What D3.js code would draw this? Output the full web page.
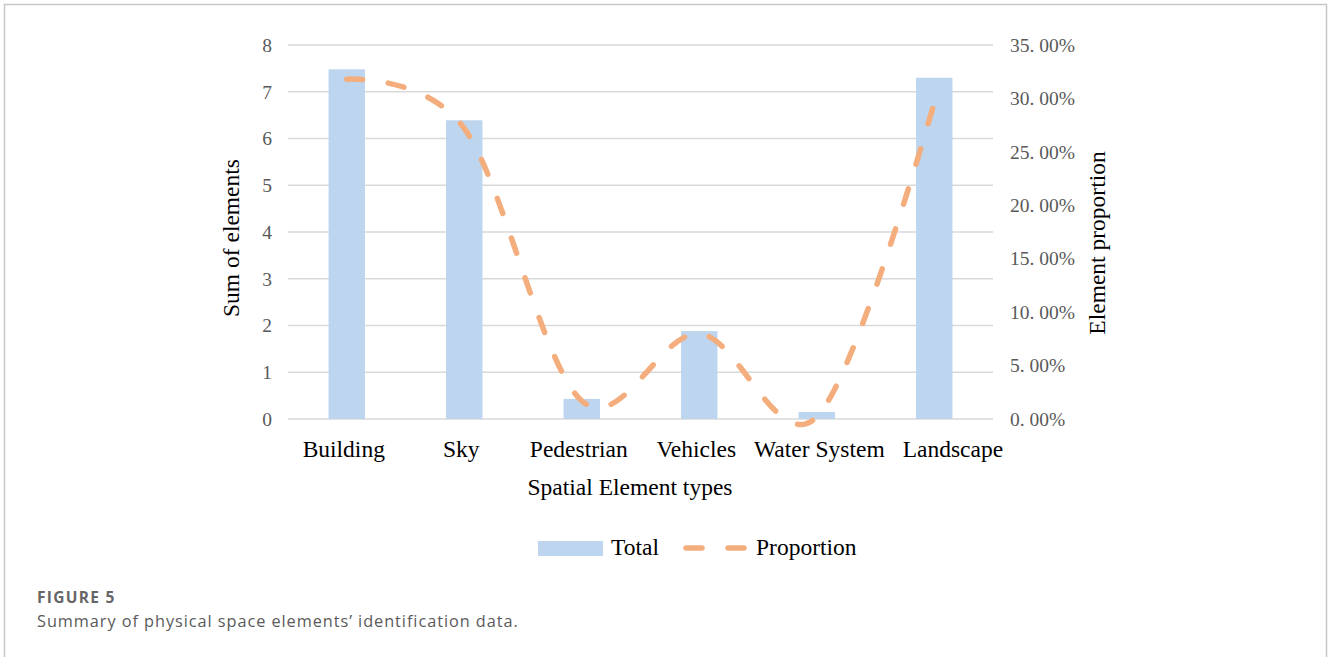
<!DOCTYPE html>
<html>
<head>
<meta charset="utf-8">
<script src="https://cdn.jsdelivr.net/npm/d3@7"></script>
<style>
  html, body { margin: 0; padding: 0; background: #fff; }
  svg { display: block; }
</style>
</head>
<body>
<svg id="chart" width="1328" height="657"></svg>
<script>
// Element types, counts per type and their share of all elements
const categories = ["Building", "Sky", "Pedestrian", "Vehicles", "Water System", "Landscape"];
const totals = [7.48, 6.39, 0.43, 1.88, 0.15, 7.3];
const proportions = [0.318, 0.272, 0.017, 0.080, 0.002, 0.296];
const leftTicks = [0, 1, 2, 3, 4, 5, 6, 7, 8];
const rightTicks = [0, 0.05, 0.10, 0.15, 0.20, 0.25, 0.30, 0.35];

const svg = d3.select("#chart");

// outer frame
svg.append("path")
  .attr("d", "M4.5,670 V4.5 H1326.5 V670")
  .attr("fill", "none").attr("stroke", "#c8c8c8").attr("stroke-width", 1.5);

const plot = { left: 288, right: 993, top: 45, bottom: 419 };

const x = d3.scaleBand().domain(categories).range([plot.left, plot.right]).paddingInner(0.69).paddingOuter(0.345);
const yL = d3.scaleLinear().domain([0, 8]).range([plot.bottom, plot.top]);
const yR = d3.scaleLinear().domain([0, 0.35]).range([plot.bottom, plot.top]);

// gridlines
svg.append("g").selectAll("line").data(leftTicks).join("line")
  .attr("x1", plot.left).attr("x2", plot.right)
  .attr("y1", d => yL(d)).attr("y2", d => yL(d))
  .attr("stroke", "#d9d9d9").attr("stroke-width", 1.5);

const serif = "'Liberation Serif', 'DejaVu Serif', serif";
const labelSize = 23.5;

// left axis
const axL = svg.append("g").attr("transform", `translate(${plot.left},0)`)
  .call(d3.axisLeft(yL).tickValues(leftTicks).tickSize(0).tickPadding(16).tickFormat(d3.format("d")));
axL.select(".domain").remove();
axL.selectAll("text").attr("font-family", serif).attr("font-size", 19.5).attr("fill", "#595959");

// right axis
const fmtPct = d => d3.format(".2f")(d * 100).replace(".", ". ") + "%";
const axR = svg.append("g").attr("transform", `translate(${plot.right},0)`)
  .call(d3.axisRight(yR).tickValues(rightTicks).tickSize(0).tickPadding(17).tickFormat(fmtPct));
axR.select(".domain").remove();
axR.selectAll("text").attr("font-family", serif).attr("font-size", 19.5).attr("fill", "#595959");

// bars
svg.append("g").selectAll("rect").data(categories).join("rect")
  .attr("x", d => x(d))
  .attr("width", x.bandwidth())
  .attr("y", (d, i) => yL(totals[i]))
  .attr("height", (d, i) => yL(0) - yL(totals[i]))
  .attr("fill", "#bdd5ee");

// smoothed dashed proportion line
const line = d3.line()
  .x((d, i) => x(categories[i]) + x.bandwidth() / 2)
  .y(d => yR(d))
  .curve(d3.curveCatmullRom.alpha(0));
svg.append("path")
  .datum(proportions)
  .attr("d", line)
  .attr("fill", "none")
  .attr("stroke", "#f4ad7d")
  .attr("stroke-width", 5.5)
  .attr("stroke-linecap", "round")
  .attr("stroke-dasharray", "16 26");

// category axis
const axB = svg.append("g").attr("transform", `translate(0,${plot.bottom})`)
  .call(d3.axisBottom(x).tickSize(0).tickPadding(21));
axB.select(".domain").remove();
axB.selectAll("text").attr("font-family", serif).attr("font-size", labelSize).attr("fill", "#000")
  .attr("dx", -3);

// push a label right when it would run into its left neighbour
let prevRight = -Infinity;
axB.selectAll(".tick").each(function () {
  const t = d3.select(this).select("text");
  const b = this.getBBox();
  const tx = +d3.select(this).attr("transform").match(/translate\(([-\d.]+)/)[1];
  const left = tx + b.x;
  const minGap = 18;
  if (left < prevRight + minGap) {
    const shift = prevRight + minGap - left;
    t.attr("dx", -3 + shift);
    prevRight = tx + b.x + b.width + shift;
  } else {
    prevRight = tx + b.x + b.width;
  }
});

// axis titles
svg.append("text").attr("x", 630).attr("y", 495).attr("text-anchor", "middle")
  .attr("font-family", serif).attr("font-size", labelSize).text("Spatial Element types");
svg.append("text").attr("transform", "translate(239,238) rotate(-90)").attr("text-anchor", "middle")
  .attr("font-family", serif).attr("font-size", labelSize).text("Sum of elements");
svg.append("text").attr("transform", "translate(1105,243) rotate(-90)").attr("text-anchor", "middle")
  .attr("font-family", serif).attr("font-size", labelSize).text("Element proportion");

// legend
const lg = svg.append("g");
lg.append("rect").attr("x", 538).attr("y", 541).attr("width", 65).attr("height", 15).attr("fill", "#bdd5ee");
lg.append("text").attr("x", 611).attr("y", 555).attr("font-family", serif).attr("font-size", labelSize).text("Total");
lg.append("line").attr("x1", 686).attr("x2", 746).attr("y1", 548).attr("y2", 548)
  .attr("stroke", "#f4ad7d").attr("stroke-width", 5.5).attr("stroke-linecap", "round")
  .attr("stroke-dasharray", "16 26");
lg.append("text").attr("x", 756).attr("y", 555).attr("font-family", serif).attr("font-size", labelSize).text("Proportion");

// caption
const capFont = "'Open Sans', 'Noto Sans', sans-serif";
svg.append("text").attr("x", 37).attr("y", 603).attr("font-family", capFont).attr("font-size", 15.5)
  .attr("font-weight", 700).attr("letter-spacing", 1.3).attr("fill", "#666").text("FIGURE 5");
svg.append("text").attr("x", 37).attr("y", 627).attr("font-family", capFont).attr("font-size", 16.3)
  .attr("letter-spacing", 0.95).attr("fill", "#5a5a5a").text("Summary of physical space elements\u2019 identification data.");
</script>
</body>
</html>
